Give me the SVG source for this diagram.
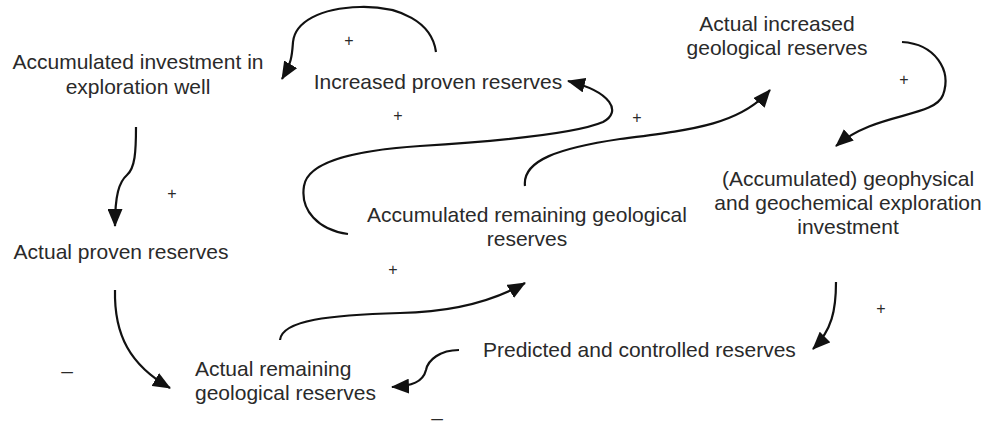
<svg xmlns="http://www.w3.org/2000/svg" width="985" height="430" viewBox="0 0 985 430">
  <style>
    .lbl { font-family: "Liberation Sans", Arial, sans-serif; font-size: 21px; fill: #2a2a2a; }
    .c { text-anchor: middle; }
    .sg { font-family: "Liberation Sans", Arial, sans-serif; font-size: 16px; fill: #2a2a2a; text-anchor: middle; }
    .dash { font-family: "Liberation Sans", Arial, sans-serif; font-size: 21px; fill: #2a2a2a; text-anchor: middle; }
    .edge { fill: none; stroke: #111; stroke-width: 2.2; marker-end: url(#ah); }
  </style>
  <defs>
    <marker id="ah" viewBox="0 0 18 15" refX="17" refY="7.5" markerWidth="18" markerHeight="15" markerUnits="userSpaceOnUse" orient="auto">
      <path d="M0,0 L18,7.5 L0,15 Z" fill="#111"/>
    </marker>
  </defs>
  <rect width="985" height="430" fill="#fff"/>

  <g id="connectors">
    <path class="edge" d="M436,52 C432,22 400,6 360,7 C320,8 295,22 293,42 C292,55 292,62 282,79"/>
    <path class="edge" d="M136,127 C136,152 135,168 127,175 C119,182 115,195 115,226"/>
    <path class="edge" d="M115,290 C114,335 130,365 170,388"/>
    <path class="edge" d="M280,340 C282,320 330,315 400,313 C450,312 490,303 525,283"/>
    <path class="edge" d="M348,234 C318,230 300,210 304,186 C308,160 360,150 420,146 C500,141 575,134 603,122 C622,112 612,92 568,81"/>
    <path class="edge" d="M525,186 C522,160 560,148 620,139 C690,130 740,125 770,90"/>
    <path class="edge" d="M902,42 C935,44 952,70 943,95 C934,118 875,112 836,146"/>
    <path class="edge" d="M836,282 C836,310 832,330 813,349"/>
    <path class="edge" d="M459,350 C440,350 428,360 426,370 C423,382 412,386 392,387"/>
  </g>

  <g id="signs">
    <text class="sg" x="349" y="46">+</text>
    <text class="sg" x="398" y="121">+</text>
    <text class="sg" x="637" y="123">+</text>
    <text class="sg" x="904" y="85">+</text>
    <text class="sg" x="172" y="199">+</text>
    <text class="sg" x="393" y="275">+</text>
    <text class="sg" x="881" y="314">+</text>
    <text class="dash" x="67" y="378">–</text>
    <text class="dash" x="437" y="425">–</text>
  </g>

  <g id="n-accum-invest-well">
    <text class="lbl c" x="138" y="69">Accumulated investment in</text>
    <text class="lbl c" x="138" y="94">exploration well</text>
  </g>
  <g id="n-increased-proven">
    <text class="lbl c" x="438" y="89">Increased proven reserves</text>
  </g>
  <g id="n-actual-increased-geo">
    <text class="lbl c" x="777" y="31">Actual increased</text>
    <text class="lbl c" x="777" y="55">geological reserves</text>
  </g>
  <g id="n-geophys-invest">
    <text class="lbl c" x="848" y="186">(Accumulated) geophysical</text>
    <text class="lbl c" x="848" y="210">and geochemical exploration</text>
    <text class="lbl c" x="848" y="234">investment</text>
  </g>
  <g id="n-accum-remaining-geo">
    <text class="lbl c" x="527" y="222">Accumulated remaining geological</text>
    <text class="lbl c" x="527" y="246">reserves</text>
  </g>
  <g id="n-actual-proven">
    <text class="lbl c" x="121" y="259">Actual proven reserves</text>
  </g>
  <g id="n-actual-remaining-geo">
    <text class="lbl" x="195" y="376">Actual remaining</text>
    <text class="lbl" x="195" y="400">geological reserves</text>
  </g>
  <g id="n-predicted-controlled">
    <text class="lbl" x="483" y="357">Predicted and controlled reserves</text>
  </g>
</svg>
